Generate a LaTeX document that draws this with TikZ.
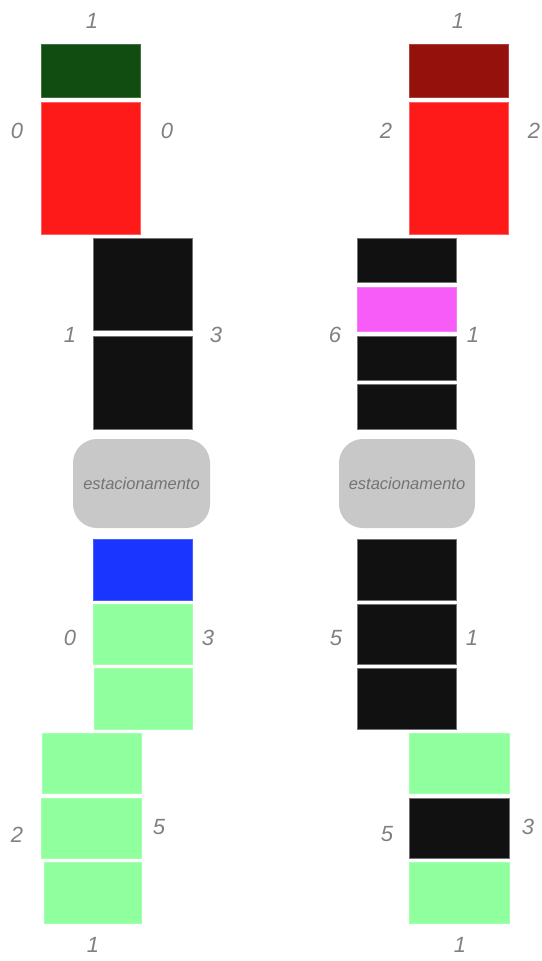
\documentclass[tikz,border=0pt]{standalone}
\usepackage{fontspec}
\setmainfont{Liberation Sans}
\definecolor{dgreen}{HTML}{114D11}
\definecolor{dred}{HTML}{94120B}
\definecolor{cred}{HTML}{FF1A1A}
\definecolor{cblk}{HTML}{111111}
\definecolor{cmag}{HTML}{F85CF8}
\definecolor{cblue}{HTML}{1A35FF}
\definecolor{cgreen}{HTML}{90FF9E}
\definecolor{cpark}{HTML}{C8C8C8}
\definecolor{lbl}{HTML}{808080}
\definecolor{ptxt}{HTML}{747474}
\tikzset{
  cell/.style={anchor=north west,inner sep=0pt,outer sep=0pt,line width=0.6pt},
  gcell/.style={cell,fill=cgreen,draw=cgreen!85!white},
  kcell/.style={cell,fill=cblk,draw=black!55},
  rcell/.style={cell,fill=cred,draw=cred!70!white},
  park/.style={anchor=north west,inner sep=0pt,outer sep=0pt,fill=cpark,rounded corners=24pt,
    font=\fontsize{16.5}{18}\selectfont\itshape,text=ptxt},
  num/.style={inner sep=0pt,text height=15.75pt,text depth=0pt,
    font=\fontsize{22}{26}\selectfont\itshape,text=lbl}
}
\begin{document}
\begin{tikzpicture}[x=1pt,y=-1pt]
\useasboundingbox (0,0) rectangle (541,961);
% top left
\node[cell,fill=dgreen,draw=dgreen!80!white,minimum width=99pt,minimum height=53pt] (tlA) at (41,44) {};
\node[rcell,minimum width=99pt,minimum height=132pt] (tlB) at (41,102) {};
\node[num] (tl1) at (92,21) {1};
\node[num] (tl2) at (17,131) {0};
\node[num] (tl3) at (167,131) {0};
% top right
\node[cell,fill=dred,draw=dred!80!white,minimum width=99pt,minimum height=53pt] (trA) at (409,44) {};
\node[rcell,minimum width=99pt,minimum height=132pt] (trB) at (409,102) {};
\node[num] (tr1) at (458,21) {1};
\node[num] (tr2) at (386,131) {2};
\node[num] (tr3) at (534,131) {2};
% middle left
\node[kcell,minimum width=99pt,minimum height=92pt] (mlA) at (93,238) {};
\node[kcell,minimum width=99pt,minimum height=93pt] (mlB) at (93,336) {};
\node[num] (ml1) at (70,335) {1};
\node[num] (ml2) at (216,335) {3};
% middle right
\node[kcell,minimum width=99pt,minimum height=44pt] (mrA) at (357,238) {};
\node[cell,fill=cmag,draw=cmag!80!white,minimum width=99pt,minimum height=44pt] (mrB) at (357,287) {};
\node[kcell,minimum width=99pt,minimum height=44pt] (mrC) at (357,336) {};
\node[kcell,minimum width=99pt,minimum height=45pt] (mrD) at (357,384) {};
\node[num] (mr1) at (335,335) {6};
\node[num] (mr2) at (473,335) {1};
% parking
\node[park,minimum width=137pt,minimum height=89pt] (pl) at (73,439) {estacionamento};
\node[park,minimum width=136pt,minimum height=89pt] (pr) at (339,439) {estacionamento};
% lower left
\node[cell,fill=cblue,draw=cblue!80!white,minimum width=99pt,minimum height=61pt] (llA) at (93,539) {};
\node[gcell,minimum width=99pt,minimum height=60pt] (llB) at (93,604) {};
\node[gcell,minimum width=98pt,minimum height=61pt] (llC) at (94,668) {};
\node[num] (ll1) at (70,638) {0};
\node[num] (ll2) at (208,638) {3};
% bottom left
\node[gcell,minimum width=99pt,minimum height=60pt] (blA) at (42,733) {};
\node[gcell,minimum width=100pt,minimum height=60pt] (blB) at (41,798) {};
\node[gcell,minimum width=97pt,minimum height=61pt] (blC) at (44,862) {};
\node[num] (bl1) at (17,835) {2};
\node[num] (bl2) at (159,827) {5};
\node[num] (bl3) at (93,945) {1};
% lower right
\node[kcell,minimum width=99pt,minimum height=61pt] (lrA) at (357,539) {};
\node[kcell,minimum width=99pt,minimum height=60pt] (lrB) at (357,604) {};
\node[kcell,minimum width=99pt,minimum height=61pt] (lrC) at (357,668) {};
\node[num] (lr1) at (336,638) {5};
\node[num] (lr2) at (472,638) {1};
% bottom right
\node[gcell,minimum width=100pt,minimum height=60pt] (brA) at (409,733) {};
\node[kcell,minimum width=100pt,minimum height=60pt] (brB) at (409,798) {};
\node[gcell,minimum width=100pt,minimum height=61pt] (brC) at (409,862) {};
\node[num] (br1) at (387,834) {5};
\node[num] (br2) at (528,827) {3};
\node[num] (br3) at (460,945) {1};
\end{tikzpicture}
\end{document}
